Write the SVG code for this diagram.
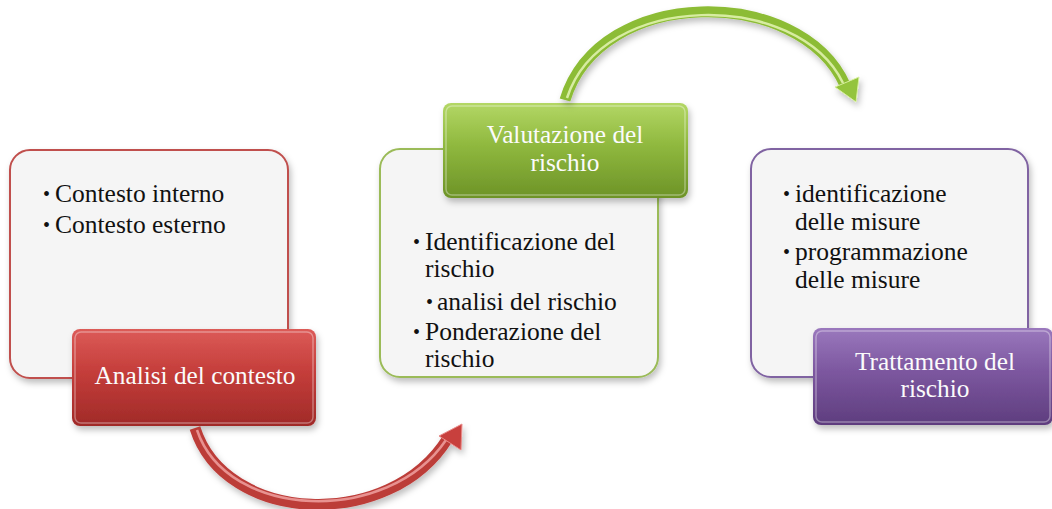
<svg xmlns="http://www.w3.org/2000/svg" width="1052" height="509" viewBox="0 0 1052 509">
<defs>
<style>
.box{fill:#f5f5f5;stroke-width:2}
.txt{font-family:"Liberation Serif","Times New Roman",serif;font-size:25.5px;fill:#111}
.bul{font-family:"Liberation Serif","Times New Roman",serif;font-size:20px;fill:#111}
.lbl{font-family:"Liberation Serif","Times New Roman",serif;font-size:25.3px;fill:#fbfbfb;text-anchor:middle}
.shine{fill:none;stroke:#ffffff;stroke-opacity:0.35;stroke-width:1.5}
</style>
<linearGradient id="gRed" x1="0" y1="0" x2="0" y2="1">
<stop offset="0" stop-color="#dc5b58"/><stop offset="0.45" stop-color="#c43d3a"/><stop offset="1" stop-color="#a02a28"/>
</linearGradient>
<linearGradient id="gGreen" x1="0" y1="0" x2="0" y2="1">
<stop offset="0" stop-color="#b3d765"/><stop offset="0.45" stop-color="#8fb83e"/><stop offset="1" stop-color="#6d9327"/>
</linearGradient>
<linearGradient id="gPurple" x1="0" y1="0" x2="0" y2="1">
<stop offset="0" stop-color="#9a78bd"/><stop offset="0.45" stop-color="#7c579f"/><stop offset="1" stop-color="#5e3d7e"/>
</linearGradient>
<filter id="sh" x="-10%" y="-10%" width="130%" height="140%">
<feDropShadow dx="2" dy="4" stdDeviation="3" flood-color="#000" flood-opacity="0.25"/>
</filter>
</defs>

<g id="node-analisi">
<rect class="box" x="10" y="150" width="278" height="228" rx="20" stroke="#c0504d" filter="url(#sh)"/>
<text class="bul" x="43" y="201">•</text><text class="txt" x="55" y="202">Contesto interno</text>
<text class="bul" x="43" y="232">•</text><text class="txt" x="55" y="233">Contesto esterno</text>
<rect x="72" y="329" width="244" height="97" rx="8" fill="url(#gRed)" filter="url(#sh)"/>
<rect class="shine" x="75" y="332" width="238" height="91" rx="6"/>
<text class="lbl" x="195" y="384">Analisi del contesto</text>
</g>

<g id="node-valutazione">
<rect class="box" x="380" y="149" width="278" height="228" rx="20" stroke="#9bbb59" filter="url(#sh)"/>
<rect x="443" y="103" width="245" height="95" rx="8" fill="url(#gGreen)" filter="url(#sh)"/>
<rect class="shine" x="446" y="106" width="239" height="89" rx="6"/>
<text class="lbl" x="565" y="143">Valutazione del</text>
<text class="lbl" x="565" y="171">rischio</text>
<text class="bul" x="413" y="249">•</text><text class="txt" x="425" y="250">Identificazione del</text>
<text class="txt" x="425" y="277">rischio</text>
<text class="bul" x="426" y="309">•</text><text class="txt" x="437" y="310">analisi del rischio</text>
<text class="bul" x="413" y="339">•</text><text class="txt" x="425" y="340">Ponderazione del</text>
<text class="txt" x="425" y="367">rischio</text>
</g>

<g id="node-trattamento">
<rect class="box" x="751" y="149" width="277" height="228" rx="20" stroke="#8064a2" filter="url(#sh)"/>
<text class="bul" x="783" y="201">•</text><text class="txt" x="795" y="202">identificazione</text>
<text class="txt" x="795" y="230">delle misure</text>
<text class="bul" x="783" y="259">•</text><text class="txt" x="795" y="260">programmazione</text>
<text class="txt" x="795" y="288">delle misure</text>
<rect x="813" y="328" width="240" height="97" rx="8" fill="url(#gPurple)" filter="url(#sh)"/>
<rect class="shine" x="816" y="331" width="234" height="91" rx="6"/>
<text class="lbl" x="935" y="370">Trattamento del</text>
<text class="lbl" x="935" y="397">rischio</text>
</g>

<g id="connectors">
<g id="arrow-red" filter="url(#sh)">
<path d="M195,428 C225,524 390,532 448,438" fill="none" stroke="#bc3c39" stroke-width="11"/>
<path d="M197,430 C227,520 388,526 446,440" fill="none" stroke="#f2a8a6" stroke-width="2.5" stroke-opacity="0.8"/>
<polygon points="462,424 461,450 450,443 439,436" fill="#c8413e" stroke="#e88a88" stroke-width="1"/>
</g>
<g id="arrow-green" filter="url(#sh)">
<path d="M565,100 C600,-15 800,-15 845,85" fill="none" stroke="#8cbc35" stroke-width="11"/>
<path d="M567,98 C602,-10 798,-10 843,83" fill="none" stroke="#e4f5b4" stroke-width="2.5" stroke-opacity="0.85"/>
<polygon points="856,102 859,77 847,82 835,87" fill="#94c43c" stroke="#d8efa0" stroke-width="1"/>
</g>
</g>
</svg>
